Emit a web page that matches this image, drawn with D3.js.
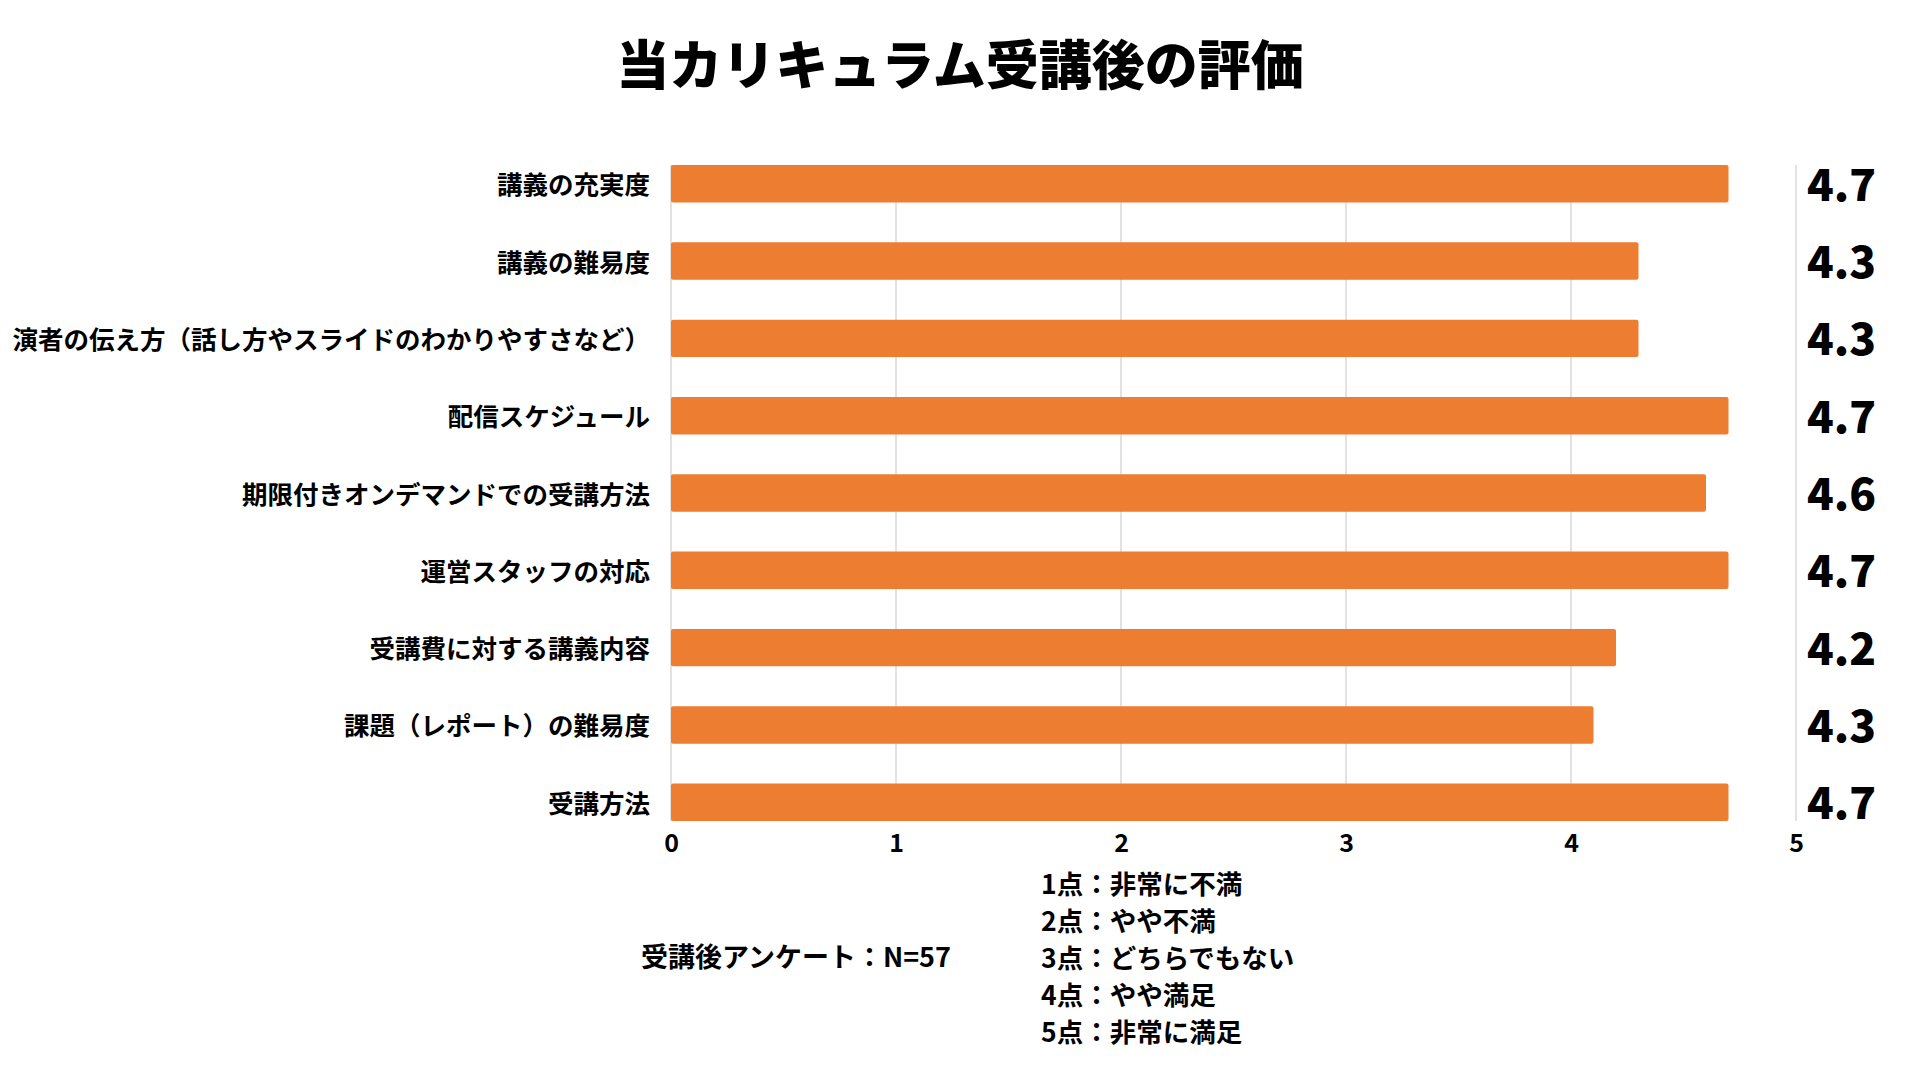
<!DOCTYPE html>
<html>
<head>
<meta charset="utf-8">
<script src="https://cdn.jsdelivr.net/npm/d3@7"></script>
<style>
  body { margin: 0; background: #fff; }
  svg text { font-family: "Noto Sans CJK JP", "Noto Sans", sans-serif; fill: #000; }
</style>
</head>
<body>
<div id="chart"></div>
<script>
var chartTitle = "当カリキュラム受講後の評価";
var categories = [
	"講義の充実度",
	"講義の難易度",
	"演者の伝え方（話し方やスライドのわかりやすさなど）",
	"配信スケジュール",
	"期限付きオンデマンドでの受講方法",
	"運営スタッフの対応",
	"受講費に対する講義内容",
	"課題（レポート）の難易度",
	"受講方法"
];
// bar lengths as drawn, and the printed scores beside them
var scores = [4.7, 4.3, 4.3, 4.7, 4.6, 4.7, 4.2, 4.1, 4.7];
var scoreLabels = ["4.7", "4.3", "4.3", "4.7", "4.6", "4.7", "4.2", "4.3", "4.7"];
var xTicks = [0, 1, 2, 3, 4, 5];
var surveyNote = "受講後アンケート：N=57";
var scaleNotes = [
	"1点：非常に不満",
	"2点：やや不満",
	"3点：どちらでもない",
	"4点：やや満足",
	"5点：非常に満足"
];

var width = 1920, height = 1080;
var plotLeft = 671, plotRight = 1796, plotTop = 165, plotBottom = 821;

var svg = d3.select("#chart").append("svg")
	.attr("width", width)
	.attr("height", height);

svg.append("text")
	.attr("x", 960).attr("y", 62)
	.attr("text-anchor", "middle")
	.attr("dominant-baseline", "central")
	.style("font-size", "53px")
	.style("font-weight", 900)
	.text(chartTitle);

var x = d3.scaleLinear().domain([0, 5]).range([plotLeft, plotRight]);
var y = d3.scaleBand().domain(categories).range([plotTop, plotBottom])
	.paddingInner(0.515).paddingOuter(0);

// vertical grid lines
svg.append("g").selectAll("line")
	.data(xTicks)
	.enter().append("line")
	.attr("x1", function(d) { return x(d); })
	.attr("x2", function(d) { return x(d); })
	.attr("y1", plotTop).attr("y2", plotBottom)
	.style("stroke", "#d9d9d9")
	.style("stroke-width", "1.5px");

// tick labels under the plot
var xAxis = svg.append("g")
	.attr("transform", "translate(0," + plotBottom + ")")
	.call(d3.axisBottom(x).tickValues(xTicks).tickSize(0).tickPadding(13).tickFormat(d3.format("d")));
xAxis.select(".domain").remove();
xAxis.selectAll("text")
	.style("font-family", '"Noto Sans CJK JP", sans-serif')
	.style("font-size", "25px")
	.style("font-weight", 700)
	.style("fill", "#000");

svg.append("g").selectAll("rect")
	.data(scores)
	.enter().append("rect")
	.attr("x", x(0))
	.attr("y", function(d, i) { return y(categories[i]); })
	.attr("width", function(d) { return x(d) - x(0); })
	.attr("height", y.bandwidth())
	.attr("rx", 2)
	.style("fill", "#ED7D31");

// category labels
svg.append("g").selectAll("text")
	.data(categories)
	.enter().append("text")
	.attr("x", 650)
	.attr("y", function(d) { return y(d) + y.bandwidth() / 2 - 1; })
	.attr("text-anchor", "end")
	.attr("dominant-baseline", "central")
	.style("font-size", "25.5px")
	.style("font-weight", 700)
	.text(function(d) { return d; });

// printed scores at the right
svg.append("g").selectAll("text")
	.data(scoreLabels)
	.enter().append("text")
	.attr("x", 1807)
	.attr("y", function(d, i) { return y(categories[i]) + y.bandwidth() / 2 - 2; })
	.attr("dominant-baseline", "central")
	.style("font-size", "44px")
	.style("font-weight", 900)
	.text(function(d) { return d; });

svg.append("text")
	.attr("x", 641).attr("y", 955)
	.attr("dominant-baseline", "central")
	.style("font-size", "27px")
	.style("font-weight", 700)
	.text(surveyNote);

svg.append("g").selectAll("text")
	.data(scaleNotes)
	.enter().append("text")
	.attr("x", 1041)
	.attr("y", function(d, i) { return 882 + i * 37; })
	.attr("dominant-baseline", "central")
	.style("font-size", "26.5px")
	.style("font-weight", 700)
	.text(function(d) { return d; });
</script>
</body>
</html>
